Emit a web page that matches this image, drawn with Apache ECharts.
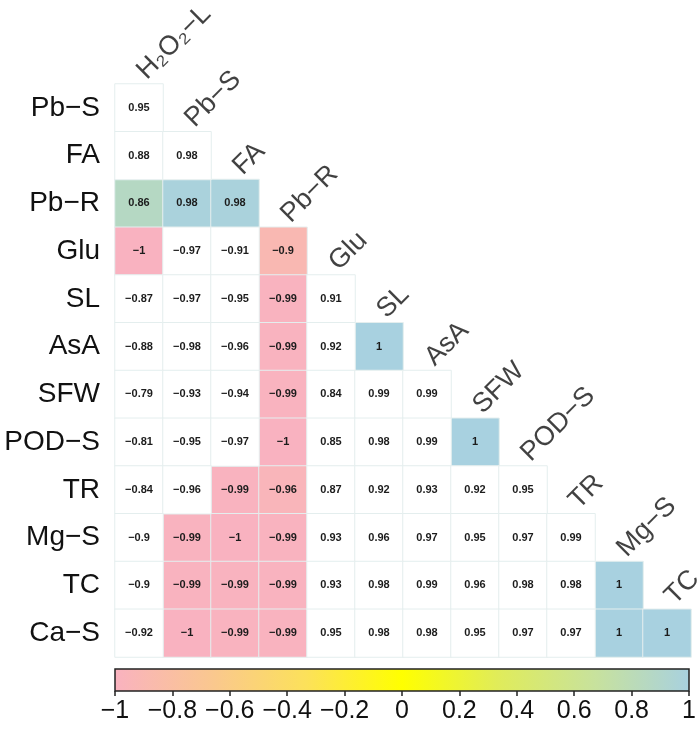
<!DOCTYPE html>
<html>
<head>
<meta charset="utf-8">
<script src="https://cdn.jsdelivr.net/npm/echarts@6/dist/echarts.min.js"></script>
<style>
  html, body { margin: 0; padding: 0; background: #fff; }
  #chart { width: 700px; height: 730px; }
</style>
</head>
<body>
<div id="chart"></div>
<script>
// rows (top to bottom) and columns (left to right) of the lower triangle
const rowNames = ['Pb−S', 'FA', 'Pb−R', 'Glu', 'SL', 'AsA', 'SFW', 'POD−S', 'TR', 'Mg−S', 'TC', 'Ca−S'];
const colNames = ['H₂O₂−L', 'Pb−S', 'FA', 'Pb−R', 'Glu', 'SL', 'AsA', 'SFW', 'POD−S', 'TR', 'Mg−S', 'TC'];

// correlation coefficients, one list per row
const corrValues = [
    [0.95],
    [0.88, 0.98],
    [0.86, 0.98, 0.98],
    [-1, -0.97, -0.91, -0.9],
    [-0.87, -0.97, -0.95, -0.99, 0.91],
    [-0.88, -0.98, -0.96, -0.99, 0.92, 1],
    [-0.79, -0.93, -0.94, -0.99, 0.84, 0.99, 0.99],
    [-0.81, -0.95, -0.97, -1, 0.85, 0.98, 0.99, 1],
    [-0.84, -0.96, -0.99, -0.96, 0.87, 0.92, 0.93, 0.92, 0.95],
    [-0.9, -0.99, -1, -0.99, 0.93, 0.96, 0.97, 0.95, 0.97, 0.99],
    [-0.9, -0.99, -0.99, -0.99, 0.93, 0.98, 0.99, 0.96, 0.98, 0.98, 1],
    [-0.92, -1, -0.99, -0.99, 0.95, 0.98, 0.98, 0.95, 0.97, 0.97, 1, 1]
];

// 1 = significant (coloured cell), 0 = not significant (left white)
const sigMask = [
    [0],
    [0, 0],
    [1, 1, 1],
    [1, 0, 0, 1],
    [0, 0, 0, 1, 0],
    [0, 0, 0, 1, 0, 1],
    [0, 0, 0, 1, 0, 0, 0],
    [0, 0, 0, 1, 0, 0, 0, 1],
    [0, 0, 1, 1, 0, 0, 0, 0, 0],
    [0, 1, 1, 1, 0, 0, 0, 0, 0, 0],
    [0, 1, 1, 1, 0, 0, 0, 0, 0, 0, 1],
    [0, 1, 1, 1, 0, 0, 0, 0, 0, 0, 1, 1]
];

const scaleMin = -1;
const scaleMax = 1;
const scaleStep = 0.2;
const palette = ['#F9B2C0', '#FAC790', '#FCE15A', '#FFFF00', '#E0EC5A', '#C8E29C', '#A8D1E0'];

const minus = v => String(v).replace('-', '−');

let sigData = [];
let plainData = [];
corrValues.forEach((row, r) => {
    row.forEach((v, c) => {
        if (sigMask[r][c]) {
            sigData.push([c, r, v]);
        } else {
            plainData.push([c, r, v]);
        }
    });
});

// column header sits just above the top cell of its column
let headerData = colNames.map((name, j) => [j, j]);

let barStops = palette.map((color, i) => ({ offset: i / (palette.length - 1), color: color }));

const cellLabel = {
    show: true,
    formatter: p => minus(p.data[2]),
    fontFamily: 'Liberation Sans',
    fontWeight: 'bold',
    fontSize: 11,
    color: '#1c1c1c'
};

const cellStyle = {
    borderColor: '#e4eeee',
    borderWidth: 1
};

let chart = echarts.init(document.getElementById('chart'));

chart.setOption({
    animation: false,
    backgroundColor: '#fff',
    textStyle: { fontFamily: 'Liberation Sans' },
    grid: [
        { left: 115, top: 84, width: 576, height: 573 },
        {
            left: 115, top: 669, width: 574, height: 22,
            show: true,
            backgroundColor: new echarts.graphic.LinearGradient(0, 0, 1, 0, barStops),
            borderColor: '#222',
            borderWidth: 1.5
        }
    ],
    xAxis: [
        {
            type: 'category',
            data: colNames,
            gridIndex: 0,
            axisLine: { show: false },
            axisTick: { show: false },
            axisLabel: { show: false },
            splitLine: { show: false }
        },
        {
            type: 'value',
            gridIndex: 1,
            min: scaleMin,
            max: scaleMax,
            interval: scaleStep,
            axisLine: { show: false },
            axisTick: { show: true, length: 5, lineStyle: { color: '#222', width: 1.5 } },
            axisLabel: {
                fontSize: 25,
                color: '#111',
                margin: 8,
                formatter: v => minus(v)
            },
            splitLine: { show: false }
        }
    ],
    yAxis: [
        {
            type: 'category',
            data: rowNames,
            inverse: true,
            gridIndex: 0,
            axisLine: { show: false },
            axisTick: { show: false },
            axisLabel: { fontSize: 28, color: '#111', margin: 15 },
            splitLine: { show: false }
        },
        {
            type: 'value',
            gridIndex: 1,
            show: false
        }
    ],
    visualMap: [
        {
            type: 'continuous',
            show: false,
            seriesIndex: 0,
            dimension: 2,
            min: scaleMin,
            max: scaleMax,
            inRange: { color: palette }
        },
        {
            type: 'continuous',
            show: false,
            seriesIndex: 1,
            dimension: 2,
            min: scaleMin,
            max: scaleMax,
            inRange: { color: ['#ffffff', '#ffffff'] }
        }
    ],
    series: [
        {
            name: 'significant',
            type: 'heatmap',
            data: sigData,
            label: cellLabel,
            itemStyle: cellStyle,
            emphasis: { disabled: true }
        },
        {
            name: 'not significant',
            type: 'heatmap',
            data: plainData,
            label: cellLabel,
            itemStyle: cellStyle,
            emphasis: { disabled: true }
        },
        {
            name: 'column names',
            type: 'scatter',
            data: headerData,
            symbolSize: 0,
            silent: true,
            label: {
                show: true,
                position: [0, 0],
                offset: [25, -8],
                rotate: 45,
                align: 'left',
                verticalAlign: 'bottom',
                fontSize: 27,
                color: '#111',
                formatter: p => colNames[p.data[0]]
            }
        }
    ]
});
</script>
</body>
</html>
